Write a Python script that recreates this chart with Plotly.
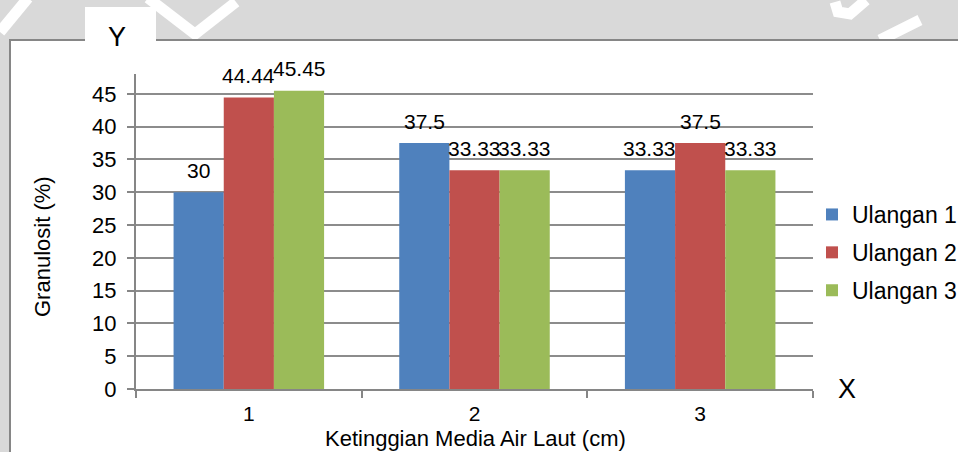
import plotly.graph_objects as go

categories = ["1", "2", "3"]
series_names = ["Ulangan 1", "Ulangan 2", "Ulangan 3"]
ulangan1 = [30, 37.5, 33.33]
ulangan2 = [44.44, 33.33, 37.5]
ulangan3 = [45.45, 33.33, 33.33]
label1 = ["30", "37.5", "33.33"]
label2 = ["44.44", "33.33", "37.5"]
label3 = ["45.45", "33.33", "33.33"]
y_ticks = [0, 5, 10, 15, 20, 25, 30, 35, 40, 45, 50]
y_ticktext = ["0", "5", "10", "15", "20", "25", "30", "35", "40", "45", ""]

colors = ["#4f81bd", "#c0504d", "#9bbb59"]
FONT = "Liberation Sans, Arial, sans-serif"

W, H = 958, 452
L, R, T, B = 136, 145, 61, 63
pw, ph = W - L - R, H - T - B


def px(x):
    return (x - L) / pw


def py(y):
    return (H - B - y) / ph


fig = go.Figure()
all_vals = [ulangan1, ulangan2, ulangan3]
all_labels = [label1, label2, label3]
for i, (name, vals) in enumerate(zip(series_names, all_vals)):
    fig.add_trace(go.Bar(
        x=categories, y=vals, name=name, offsetgroup=str(i),
        marker=dict(color=colors[i], line=dict(width=0)),
        legendgroup=name, hoverinfo="skip",
    ))

annotations = []
for i, (vals, labs) in enumerate(zip(all_vals, all_labels)):
    for j, (v, lab) in enumerate(zip(vals, labs)):
        annotations.append(dict(
            x=j + (i - 1) * (1 - 0.333) / 3, y=v, xref="x", yref="y",
            text=lab, showarrow=False, yanchor="middle", yshift=22,
            font=dict(family=FONT, size=21, color="#000"),
        ))

annotations += [
    dict(x=px(117), y=py(37), xref="paper", yref="paper", text="Y", showarrow=False,
         font=dict(family=FONT, size=27, color="#000"), xanchor="center", yanchor="middle"),
    dict(x=px(847), y=py(389), xref="paper", yref="paper", text="X", showarrow=False,
         font=dict(family=FONT, size=27, color="#000"), xanchor="center", yanchor="middle"),
    dict(x=px(42), y=py(247), xref="paper", yref="paper", text="Granulosit (%)", showarrow=False,
         textangle=-90, font=dict(family=FONT, size=22, color="#000"), xanchor="center", yanchor="middle"),
    dict(x=px(475), y=py(438), xref="paper", yref="paper", text="Ketinggian Media Air Laut (cm)",
         showarrow=False, font=dict(family=FONT, size=22, color="#000"), xanchor="center",
         yanchor="middle"),
]

shapes = []
# watermark strokes in grey band
wm = [
    [(0, 32), (28, -2)],
    [(148, -2), (195, 34), (236, 2)],
    [(835, 2), (838, 12), (850, 14), (866, 0)],
    [(880, 40), (920, 20)],
]
for pts in wm:
    path = "M " + " L ".join(f"{px(x)},{py(y)}" for x, y in pts)
    shapes.append(dict(type="path", path=path, xref="paper", yref="paper",
                       line=dict(color="#ffffff", width=11), layer="below"))
# white chart box with grey border
shapes.append(dict(type="rect", xref="paper", yref="paper",
                   x0=px(10), x1=px(970), y0=py(470), y1=py(40),
                   fillcolor="#ffffff", line=dict(color="#868686", width=2), layer="below"))
# white box behind Y label
shapes.append(dict(type="rect", xref="paper", yref="paper",
                   x0=px(85), x1=px(156), y0=py(74), y1=py(7),
                   fillcolor="#ffffff", line=dict(width=0), layer="above"))

fig.update_layout(
    width=W, height=H,
    margin=dict(l=L, r=R, t=T, b=B, autoexpand=False),
    paper_bgcolor="#d9d9d9", plot_bgcolor="rgba(0,0,0,0)",
    barmode="group", bargap=0.333, bargroupgap=0,
    font=dict(family=FONT, size=20, color="#000"),
    showlegend=True, hovermode=False,
    legend=dict(x=px(812), y=py(193), xanchor="left", yanchor="top",
                bgcolor="rgba(0,0,0,0)", font=dict(family=FONT, size=23, color="#000"),
                traceorder="grouped", tracegroupgap=5, itemclick=False),
    annotations=annotations, shapes=shapes,
    xaxis=dict(type="category", range=[-0.5, 2.5], showgrid=False, showline=True,
               linecolor="#868686", linewidth=2, ticks="outside", tickson="boundaries",
               ticklen=7, tickcolor="#868686", tickwidth=2, ticklabelstandoff=5,
               tickfont=dict(family=FONT, size=21, color="#000"), zeroline=False),
    yaxis=dict(range=[0, 50], tickvals=y_ticks, ticktext=y_ticktext, showgrid=True,
               gridcolor="#8c8c8c", gridwidth=2, showline=True, linecolor="#868686", linewidth=2,
               ticks="outside", ticklen=7, tickcolor="#868686", tickwidth=2,
               tickfont=dict(family=FONT, size=22, color="#000"), zeroline=False,
               ticklabelstandoff=6),
)

fig.write_html("out.html", config={"displayModeBar": False, "staticPlot": True},
               post_script="document.body.style.margin='0';document.body.style.padding='0';")
